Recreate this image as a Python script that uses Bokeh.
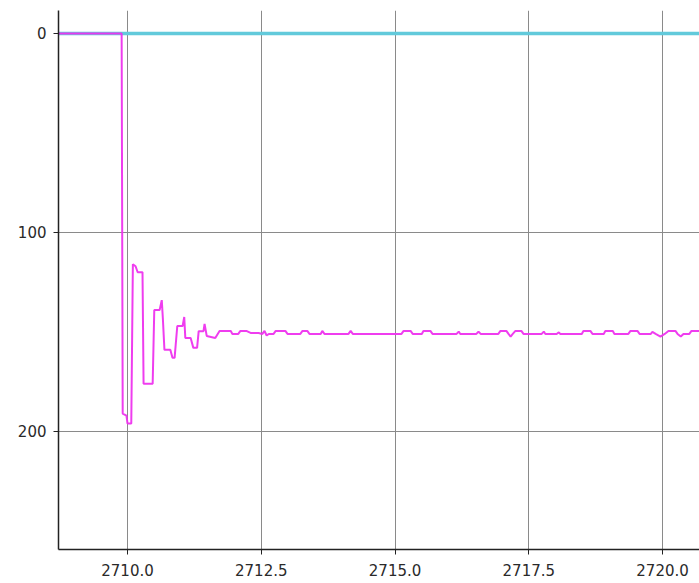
from bokeh.plotting import figure
from bokeh.models import Range1d, FixedTicker, NumeralTickFormatter
from bokeh.embed import file_html
from bokeh.resources import INLINE

# reference (setpoint) series
ref_t = [2708.5, 2720.8]
ref_v = [0, 0]

# measured response series
meas_t = [2708.5, 2709.89, 2709.91, 2709.98, 2710.00, 2710.07, 2710.10, 2710.15, 2710.19, 2710.28,
          2710.30, 2710.47, 2710.50, 2710.60, 2710.64, 2710.66, 2710.69, 2710.80, 2710.84, 2710.88,
          2710.93, 2711.03, 2711.06, 2711.08, 2711.18, 2711.23, 2711.30, 2711.33, 2711.42, 2711.44,
          2711.48, 2711.64, 2711.72, 2711.93, 2711.96, 2712.07, 2712.11, 2712.22, 2712.30, 2712.45,
          2712.52, 2712.56, 2712.60, 2712.64, 2712.73, 2712.77, 2712.95, 2712.99, 2713.23, 2713.27,
          2713.36, 2713.40, 2713.61, 2713.64, 2713.68, 2714.13, 2714.17, 2714.21, 2715.12, 2715.16,
          2715.29, 2715.33, 2715.50, 2715.53, 2715.66, 2715.70, 2716.15, 2716.19, 2716.22, 2716.52,
          2716.56, 2716.60, 2716.93, 2716.97, 2717.08, 2717.12, 2717.16, 2717.20, 2717.25, 2717.36,
          2717.40, 2717.74, 2717.78, 2717.81, 2718.02, 2718.06, 2718.09, 2718.49, 2718.52, 2718.65,
          2718.69, 2718.90, 2718.93, 2719.07, 2719.10, 2719.36, 2719.40, 2719.53, 2719.57, 2719.78,
          2719.81, 2719.87, 2719.96, 2720.04, 2720.11, 2720.24, 2720.28, 2720.34, 2720.39, 2720.50,
          2720.54, 2720.69, 2720.8]
meas_v = [0, 0, 191, 192, 196, 196, 116, 117, 120, 120,
          176, 176, 139, 139, 134, 143, 159, 159, 163, 163,
          147, 147, 142.5, 153, 153, 158, 158, 149.6, 149.6, 146,
          152, 153, 149.5, 149.5, 151, 151, 149.5, 149.5, 150.5, 150.5,
          151, 149.5, 151.8, 151, 151, 149.5, 149.5, 151, 151, 149.5,
          149.5, 151, 151, 149.5, 151, 151, 149.5, 151, 151, 149.5,
          149.5, 151, 151, 149.5, 149.5, 151, 151, 149.8, 151, 151,
          149.8, 151, 151, 149.5, 149.5, 151, 152.3, 151, 149.5, 149.5,
          151, 151, 149.8, 151, 151, 150.2, 151, 151, 149.5, 149.5,
          151, 151, 149.5, 149.5, 151, 151, 149.5, 149.5, 151, 151,
          150, 151, 152.3, 151, 149.5, 149.5, 151, 152.3, 151, 151,
          149.5, 149.5, 150]

x_ticks = [2710.0, 2712.5, 2715.0, 2717.5, 2720.0]
y_ticks = [0, 100, 200]

p = figure(width=699, height=583, output_backend="svg", toolbar_location=None,
           x_range=Range1d(2708.71, 2720.69), y_range=Range1d(259.3, -11.5),
           min_border_left=58, min_border_right=0, min_border_top=10, min_border_bottom=34)
p.outline_line_color = None
p.background_fill_color = "white"
p.border_fill_color = "white"

for ax in (p.xaxis[0], p.yaxis[0]):
    ax.axis_line_color = "#222222"
    ax.axis_line_width = 1.5
    ax.major_tick_line_color = "#222222"
    ax.major_tick_out = 5
    ax.major_tick_in = 0
    ax.minor_tick_line_color = None
    ax.major_label_text_font = "DejaVu Sans"
    ax.major_label_text_font_size = "15px"
    ax.major_label_text_color = "#2a2a2a"

p.xaxis[0].ticker = FixedTicker(ticks=x_ticks)
p.xaxis[0].formatter = NumeralTickFormatter(format="0.0")
p.xaxis[0].major_label_standoff = 9
p.yaxis[0].ticker = FixedTicker(ticks=y_ticks)
p.yaxis[0].major_label_standoff = 7

p.xgrid.grid_line_color = "#8a8a8a"
p.ygrid.grid_line_color = "#8a8a8a"
p.xgrid.grid_line_width = 1
p.ygrid.grid_line_width = 1
p.xgrid.ticker = FixedTicker(ticks=x_ticks)
p.ygrid.ticker = FixedTicker(ticks=y_ticks)

p.line(ref_t, ref_v, line_color="#62cadb", line_width=3.5)
p.line(meas_t, meas_v, line_color="#ee33ee", line_width=2, line_alpha=0.95)

open("out.html", "w").write(file_html(p, INLINE))
